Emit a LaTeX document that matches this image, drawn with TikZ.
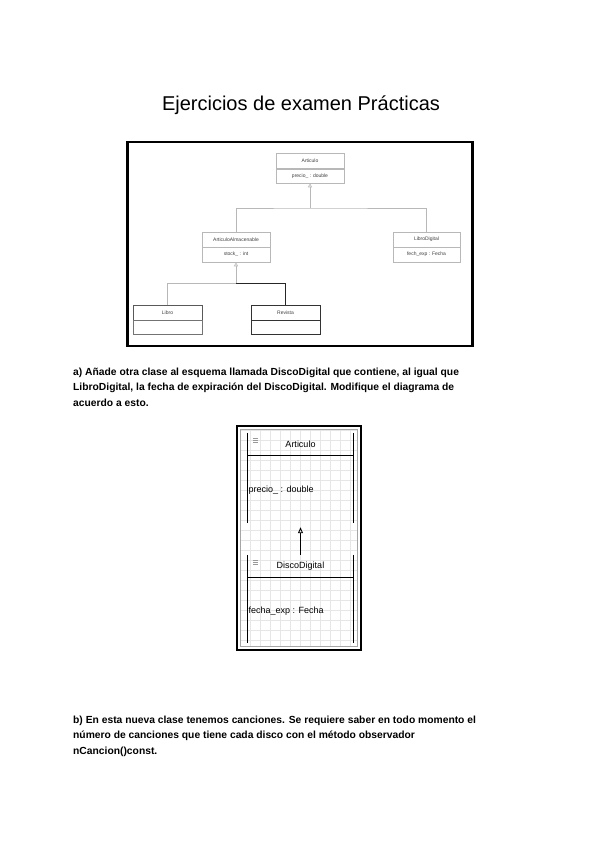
\documentclass[tikz,border=0pt]{standalone}
\usepackage{fontspec}
\setmainfont{Liberation Sans}
\usetikzlibrary{arrows.meta}
\definecolor{lg}{HTML}{B8B8B8}
\definecolor{gridc}{HTML}{E6E6E6}
\tikzset{
  hdr/.style={draw=lg, line width=0.6pt, fill=white, minimum height=15pt, minimum width=68pt, inner sep=0pt, font=\fontsize{5}{6}\selectfont, text=black!75},
  hdrdark/.style={hdr, draw=black!80},
  gen/.style={-{Triangle[open,length=4pt,width=4pt]}, draw=lg, line width=0.6pt},
  con/.style={draw=lg, line width=0.6pt},
  condark/.style={draw=black!85, line width=0.8pt},
  lane/.style={inner sep=0pt, minimum width=105pt, font=\fontsize{9}{10}\selectfont},
  lanetxt/.style={inner sep=0pt, anchor=west, font=\fontsize{9}{10}\selectfont},
  gen2/.style={-{Triangle[open,length=6pt,width=5pt]}, line width=0.9pt, shorten >=4pt},
  body/.style={inner sep=0pt, anchor=north west, align=left, font=\bfseries\fontsize{10.3}{15.3}\selectfont}
}
\begin{document}
\begin{tikzpicture}[x=1pt,y=-1pt]
\useasboundingbox (0,0) rectangle (600,848);
% title
\node[inner sep=0pt, font=\fontsize{20}{24}\selectfont] (title) at (301,105) {Ejercicios de examen Prácticas};
% top frame
\node[draw=black, line width=2.6pt, minimum width=345pt, minimum height=204pt, inner sep=0pt] (frame1) at (300,244) {};
% Articulo
\node[hdr] (arth) at (310,161) {Articulo};
\node[hdr, minimum height=14pt] (artb) at (310,176) {precio\_ : double};
% ArticuloAlmacenable
\node[hdr] (almh) at (236,239.5) {ArticuloAlmacenable};
\node[hdr] (almb) at (236,254.5) {stock\_ : int};
% LibroDigital
\node[hdr, minimum width=67pt] (ldh) at (426.5,239.5) {LibroDigital};
\node[hdr, minimum width=67pt] (ldb) at (426.5,254.5) {fech\_exp : Fecha};
% Libro
\node[hdr, draw=black!65, minimum width=69pt] (libh) at (167.5,312.5) {Libro};
\node[hdr, draw=black!55, minimum width=69pt, minimum height=14pt] (libb) at (167.5,327) {};
% Revista
\node[hdrdark, minimum width=69pt] (revh) at (285.5,312.5) {Revista};
\node[hdrdark, minimum width=69pt, minimum height=14pt] (revb) at (285.5,327) {};
% connectors
\coordinate (j1) at (310,208);
\coordinate (j2) at (236,283);
\draw[con] (almh.north) |- (j1) -| (ldh.north);
\draw[gen] (j1) -- (artb.south);
\draw[con] (libh.north) |- (j2);
\draw[condark] (j2) -| (revh.north);
\draw[gen] (j2) -- (almb.south);
% text a)
\node[body] (ta) at (73,368) {a) Añade otra clase al esquema llamada DiscoDigital que contiene, al igual que\\LibroDigital, la fecha de expiración del DiscoDigital. Modifique el diagrama de\\acuerdo a esto.};
% lower frame with grid
\fill[white] (237,426) rectangle (361,650);
\draw[gridc, line width=0.4pt] (241,430) grid[step=10pt] (357,646);
\draw[line width=0.5pt, gray!70] (240.5,429.5) rectangle (357.5,646.5);
\node[draw=black, line width=2.8pt, minimum width=124pt, minimum height=224pt, inner sep=0pt] (frame2) at (299,538) {};
% Articulo lane
\node[lane, minimum height=22pt] (a2h) at (300.5,444) {Articulo};
\node[lane, minimum height=68pt] (a2b) at (300.5,489) {};
\node[lanetxt] (a2t) at (248.5,490) {precio\_ : double};
\draw[line width=1.3pt] (a2h.north west) -- (a2b.south west);
\draw[line width=1.3pt] (a2h.north east) -- (a2b.south east);
\draw[line width=0.9pt] (a2h.south west) -- (a2h.south east);
\draw[line width=0.4pt, gray!80] ([xshift=5pt,yshift=-5pt]a2h.north west) -- +(5pt,0) ([xshift=5pt,yshift=-7pt]a2h.north west) -- +(5pt,0) ([xshift=5pt,yshift=-9pt]a2h.north west) -- +(5pt,0);
% DiscoDigital lane
\node[lane, minimum height=22pt] (ddh) at (300.5,566) {DiscoDigital};
\node[lane, minimum height=66pt] (ddb) at (300.5,610) {};
\node[lanetxt] (ddt) at (248.5,611) {fecha\_exp : Fecha};
\draw[line width=1.3pt] (ddh.north west) -- (ddb.south west);
\draw[line width=1.3pt] (ddh.north east) -- (ddb.south east);
\draw[line width=0.9pt] (ddh.south west) -- (ddh.south east);
\draw[line width=0.4pt, gray!80] ([xshift=5pt,yshift=-5pt]ddh.north west) -- +(5pt,0) ([xshift=5pt,yshift=-7pt]ddh.north west) -- +(5pt,0) ([xshift=5pt,yshift=-9pt]ddh.north west) -- +(5pt,0);
\draw[gen2] (ddh.north) -- (a2b.south);
% text b)
\node[body] (tb) at (73,716) {b) En esta nueva clase tenemos canciones. Se requiere saber en todo momento el\\número de canciones que tiene cada disco con el método observador\\nCancion()const.};
\end{tikzpicture}
\end{document}
